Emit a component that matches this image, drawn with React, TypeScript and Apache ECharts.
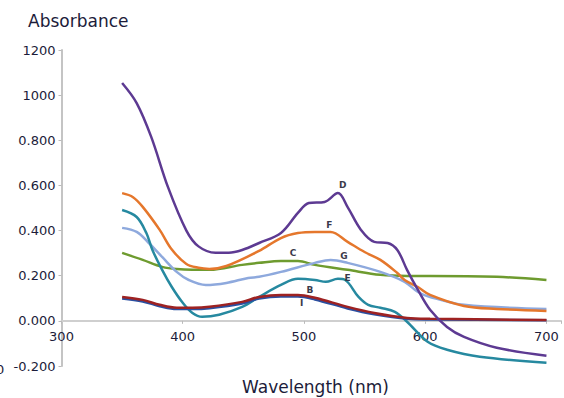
import React, { useEffect, useRef } from "react";
import * as echarts from "echarts";

const xTicks = [300, 400, 500, 600, 700];
const yTicks = [-0.2, 0, 0.2, 0.4, 0.6, 0.8, 1.0, 1.2];

const dX = [350, 362, 374, 388, 403, 413, 427, 438, 449, 463, 481, 495, 504, 517, 528, 536, 547, 558, 569, 577, 585, 594, 604, 618, 632, 659, 700];
const dY = [1.054, 0.965, 0.815, 0.59, 0.4, 0.33, 0.302, 0.302, 0.314, 0.345, 0.389, 0.478, 0.522, 0.527, 0.566, 0.504, 0.403, 0.35, 0.345, 0.314, 0.226, 0.137, 0.049, -0.027, -0.071, -0.119, -0.155];

const fX = [350, 359, 367, 381, 391, 403, 413, 422, 436, 463, 481, 495, 509, 522, 536, 550, 563, 577, 583, 594, 604, 632, 659, 700];
const fY = [0.566, 0.548, 0.505, 0.403, 0.316, 0.252, 0.235, 0.23, 0.243, 0.31, 0.367, 0.389, 0.394, 0.394, 0.35, 0.305, 0.27, 0.212, 0.181, 0.15, 0.115, 0.066, 0.053, 0.044];

const eX = [350, 362, 370, 375, 383, 391, 400, 408, 416, 430, 449, 463, 481, 495, 509, 518, 528, 534, 545, 553, 563, 575, 585, 602, 618, 645, 700];
const eY = [0.491, 0.46, 0.389, 0.314, 0.226, 0.15, 0.08, 0.035, 0.018, 0.027, 0.062, 0.106, 0.159, 0.186, 0.181, 0.173, 0.186, 0.181, 0.106, 0.071, 0.058, 0.04, -0.004, -0.093, -0.128, -0.159, -0.186];

const gX = [350, 362, 372, 383, 395, 405, 419, 436, 454, 463, 481, 509, 522, 536, 563, 583, 594, 604, 632, 700];
const gY = [0.412, 0.394, 0.345, 0.283, 0.217, 0.181, 0.159, 0.168, 0.19, 0.195, 0.217, 0.257, 0.27, 0.257, 0.217, 0.173, 0.128, 0.106, 0.071, 0.053];

const cX = [350, 367, 383, 395, 422, 449, 463, 481, 495, 509, 536, 563, 585, 604, 659, 700];
const cY = [0.301, 0.27, 0.239, 0.23, 0.226, 0.248, 0.257, 0.265, 0.265, 0.248, 0.226, 0.204, 0.199, 0.199, 0.195, 0.181];

const bX = [350, 367, 381, 395, 408, 422, 449, 463, 481, 495, 509, 536, 558, 585, 604, 700];
const bY = [0.106, 0.093, 0.071, 0.058, 0.058, 0.062, 0.084, 0.106, 0.115, 0.115, 0.102, 0.062, 0.035, 0.013, 0.009, 0.004];

const iX = [350, 367, 381, 395, 408, 422, 449, 463, 481, 495, 509, 536, 558, 585, 604, 700];
const iY = [0.099, 0.086, 0.065, 0.052, 0.052, 0.056, 0.077, 0.099, 0.108, 0.108, 0.095, 0.055, 0.029, 0.009, 0.006, 0.003];

const labelNames = ["D", "F", "C", "G", "E", "B", "I"];
const labelX = [532, 521, 491, 533, 536, 505, 498];
const labelY = [0.602, 0.425, 0.301, 0.288, 0.19, 0.137, 0.08];

const zip = (xs: number[], ys: number[]) => xs.map((x, i) => [x, ys[i]]);

export default function App() {
  const ref = useRef<HTMLDivElement>(null);
  useEffect(() => {
    if (!ref.current) return;
    const chart = echarts.init(ref.current, null, { renderer: "svg" });
    const mk = (name: string, xs: number[], ys: number[], color: string, z = 2) => ({
      name,
      type: "line",
      data: zip(xs, ys),
      smooth: 0.35,
      showSymbol: false,
      symbol: "none",
      z,
      lineStyle: { color, width: 2.5 },
    });
    const labels = labelNames.map((n, i) => ({
      coord: [labelX[i], labelY[i]],
      value: n,
    }));
    chart.setOption({
      animation: false,
      textStyle: { fontFamily: "DejaVu Sans" },
      grid: { left: 61.5, top: 50, right: 0, height: 316 },
      xAxis: {
        type: "value",
        min: 300,
        max: 712,
        interval: 100,
        axisLine: { onZero: true, lineStyle: { color: "#cfcfcf", width: 2 } },
        axisTick: { show: true, length: 3, inside: false, lineStyle: { color: "#bbbbbb" } },
        splitLine: { show: false },
        axisLabel: {
          margin: -36,
          color: "#1c1c3a",
          fontSize: 13,
          fontFamily: "DejaVu Sans",
          formatter: (v: number) => (xTicks.includes(v) ? String(v) : ""),
        },
      },
      yAxis: {
        type: "value",
        min: -0.2,
        max: 1.2,
        interval: 0.2,
        axisLine: { show: true, onZero: false, lineStyle: { color: "#c4c4c4", width: 2 } },
        axisTick: { show: true, length: 3, lineStyle: { color: "#bbbbbb" } },
        splitLine: { show: false },
        axisLabel: {
          margin: 6,
          color: "#1c1c3a",
          fontSize: 13,
          fontFamily: "DejaVu Sans",
          formatter: (v: number) => {
            const r = Math.round(v * 10) / 10;
            if (!yTicks.some((t) => Math.abs(t - r) < 1e-6)) return "";
            if (r >= 1) return String(Math.round(r * 1000));
            return r.toFixed(3);
          },
        },
      },
      graphic: [
        { type: "text", left: 28, top: 12, style: { text: "Absorbance", fontSize: 17, fill: "#1c1c3a", fontFamily: "DejaVu Sans" } },
        { type: "text", left: 242, top: 378, style: { text: "Wavelength (nm)", fontSize: 17, fill: "#1c1c3a", fontFamily: "DejaVu Sans" } },
        { type: "text", left: -4, top: 363, style: { text: "0", fontSize: 13, fill: "#1c1c3a", fontFamily: "DejaVu Sans" } },
      ],
      series: [
        mk("C", cX, cY, "#6e9b2f"),
        mk("G", gX, gY, "#8ea9dd"),
        mk("F", fX, fY, "#e5772c"),
        mk("E", eX, eY, "#2689a0"),
        mk("I", iX, iY, "#2b4fa0"),
        mk("B", bX, bY, "#9e2222", 3),
        {
          ...mk("D", dX, dY, "#5d3a92", 4),
          markPoint: {
            symbol: "circle",
            symbolSize: 0,
            label: {
              show: true,
              position: "inside",
              formatter: (p: any) => p.value,
              color: "#3a3a4a",
              fontSize: 9,
              fontWeight: "bold",
              fontFamily: "DejaVu Sans",
            },
            data: labels,
          },
        },
      ],
    });
    return () => chart.dispose();
  }, []);
  return <div ref={ref} style={{ width: 564, height: 398, position: "absolute", left: 0, top: 0 }} />;
}
